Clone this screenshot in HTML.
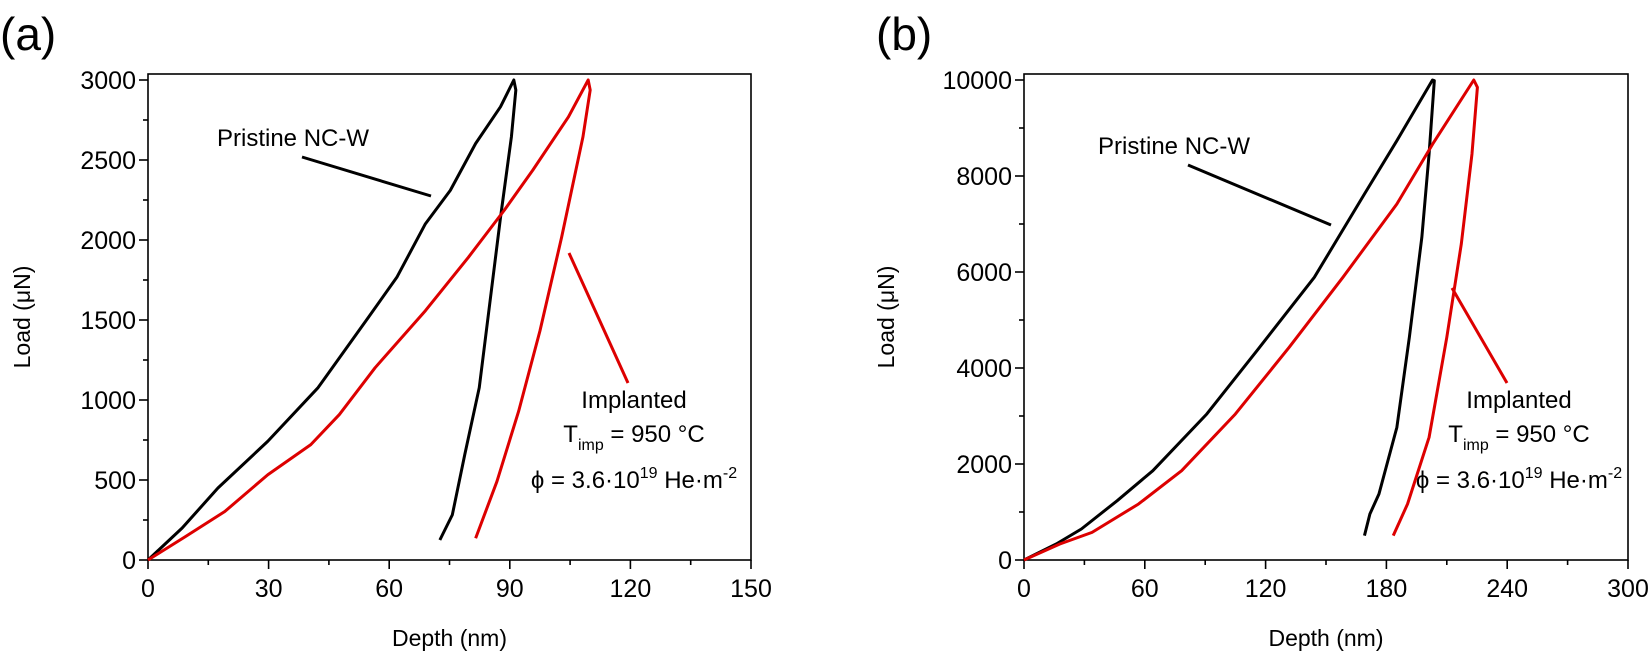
<!DOCTYPE html>
<html><head><meta charset="utf-8"><style>
body{margin:0;background:#fff;}
svg{display:block;font-family:"Liberation Sans",Arial,sans-serif;}
</style></head><body>
<svg width="1650" height="654" viewBox="0 0 1650 654">
<g id="pa"></g>
<g id="pb"></g>
</svg>
<script>
const aBlackLoadX=[0,8.5,17.4,29.8,42.3,54.8,61.9,69,75.2,81.5,87.7,91];
const aBlackLoadY=[0,200,450,742,1077,1516,1767,2101,2310,2603,2833,3000];
const aBlackUnX=[91.5,90.4,87.7,85,82.4,78.8,75.7,72.6];
const aBlackUnY=[2937,2645,2143,1600,1077,659,282,125];
const aRedLoadX=[0,9.3,19.1,29.8,40.5,47.6,56.5,69,79.7,88.6,95.7,104.6,109.5];
const aRedLoadY=[0,146,303,533,721,909,1202,1558,1892,2185,2436,2770,3000];
const aRedUnX=[110,108.2,102.9,97.5,92.2,86.8,81.5];
const aRedUnY=[2937,2645,2018,1432,930,491,136];
const bBlackLoadX=[0,16,28.5,46.3,64,90.8,115.7,144.2,169.1,185.2,202.9];
const bBlackLoadY=[0,333,646,1236,1861,3042,4361,5889,7625,8736,10000];
const bBlackUnX=[203.8,201.2,197.6,191.4,185.2,176.3,171.8,169.1];
const bBlackUnY=[9986,8458,6722,4639,2764,1375,958,507];
const bRedLoadX=[0,17.8,33.8,56.9,78.3,105,131.7,158.4,185.2,203,223.4];
const bRedLoadY=[0,333,576,1167,1861,3042,4431,5889,7417,8667,10000];
const bRedUnX=[225.2,222.5,217.2,210,201.2,190.5,183.4];
const bRedUnY=[9847,8458,6583,4639,2556,1167,507];
const aXTicks=[0,30,60,90,120,150];
const aYTicks=[0,500,1000,1500,2000,2500,3000];
const bXTicks=[0,60,120,180,240,300];
const bYTicks=[0,2000,4000,6000,8000,10000];
const NS="http://www.w3.org/2000/svg";
function mk(p,t,a){const e=document.createElementNS(NS,t);for(const k in a)e.setAttribute(k,a[k]);p.appendChild(e);return e;}
function panel(g,o){
 const sx=v=>o.x0+(v-o.xmin)/(o.xmax-o.xmin)*(o.x1-o.x0);
 const sy=v=>o.y0-(v/o.ymax)*(o.y0-o.yTop);
 let r=mk(g,'rect',{x:o.x0,y:74,width:o.x1-o.x0,height:o.y0-74,fill:'none',stroke:'#000','stroke-width':1.6});
 
 o.xt.forEach(v=>{mk(g,'line',{x1:sx(v),x2:sx(v),y1:o.y0,y2:o.y0+9,stroke:'#000','stroke-width':1.6});
  let t=mk(g,'text',{x:sx(v),y:o.y0+37,'font-size':25,'text-anchor':'middle'});t.textContent=v;
  });
 for(let i=0;i<o.xt.length-1;i++){const v=(o.xt[i]+o.xt[i+1])/2;mk(g,'line',{x1:sx(v),x2:sx(v),y1:o.y0,y2:o.y0+5,stroke:'#000','stroke-width':1.6});}
 o.yt.forEach(v=>{mk(g,'line',{x1:o.x0-9,x2:o.x0,y1:sy(v),y2:sy(v),stroke:'#000','stroke-width':1.6});
  let t=mk(g,'text',{x:o.x0-12,y:sy(v)+9,'font-size':25,'text-anchor':'end'});t.textContent=v;
  });
 for(let i=0;i<o.yt.length-1;i++){const v=(o.yt[i]+o.yt[i+1])/2;mk(g,'line',{x1:o.x0-5,x2:o.x0,y1:sy(v),y2:sy(v),stroke:'#000','stroke-width':1.6});}
 let xt=mk(g,'text',{x:(o.x0+o.x1)/2,y:646,'font-size':23,'text-anchor':'middle'});xt.textContent='Depth (nm)';
 
 let yt=mk(g,'text',{x:0,y:0,'font-size':23,'text-anchor':'middle',transform:`translate(${o.x0-o.ytOff},${(o.y0+74)/2}) rotate(-90)`});yt.textContent='Load (μN)';
 
 let pl=mk(g,'text',{x:o.lx,y:50,'font-size':46});pl.textContent=o.label;
 
 o.series.forEach(s=>{
  const pts=s.x.map((v,i)=>sx(v)+','+sy(s.y[i])).join(' ');
  let p=mk(g,'polyline',{points:pts,fill:'none',stroke:s.c,'stroke-width':3,'stroke-linejoin':'round'});
  
 });
 let t1=mk(g,'text',{x:o.pt[0],y:o.pt[1],'font-size':24});t1.textContent='Pristine NC-W';
 
 mk(g,'line',{x1:o.pl[0],y1:o.pl[1],x2:o.pl[2],y2:o.pl[3],stroke:'#000','stroke-width':3});
 mk(g,'line',{x1:o.rl[0],y1:o.rl[1],x2:o.rl[2],y2:o.rl[3],stroke:'#d00','stroke-width':3});
 const c=o.ic;
 let a=mk(g,'text',{x:c,y:408,'font-size':24,'text-anchor':'middle'});a.textContent='Implanted';
 
 let b=mk(g,'text',{x:c,y:442,'font-size':24,'text-anchor':'middle'});
 b.innerHTML='T<tspan font-size="16" dy="8">imp</tspan><tspan dy="-8"> = 950 °C</tspan>';
 
 let d=mk(g,'text',{x:c,y:488,'font-size':24,'text-anchor':'middle'});
 d.innerHTML='ϕ = 3.6·10<tspan font-size="16" dy="-10">19</tspan><tspan dy="10"> He·m</tspan><tspan font-size="16" dy="-10">-2</tspan>';
 
}
panel(document.getElementById('pa'),{x0:148,x1:751,xmin:0,xmax:150,y0:560,yTop:80,ymax:3000,xt:aXTicks,yt:aYTicks,ytOff:118,lx:0,label:'(a)',
 series:[{x:aBlackLoadX.concat(aBlackUnX),y:aBlackLoadY.concat(aBlackUnY),c:'#000',n:'pristine-curve'},{x:aRedLoadX.concat(aRedUnX),y:aRedLoadY.concat(aRedUnY),c:'#d00',n:'implanted-curve'}],
 pt:[217,146],pl:[302,157,431,196],rl:[569,253,628,383],ic:634});
panel(document.getElementById('pb'),{x0:1024,x1:1628,xmin:0,xmax:300,y0:560,yTop:80,ymax:10000,xt:bXTicks,yt:bYTicks,ytOff:130,lx:876,label:'(b)',
 series:[{x:bBlackLoadX.concat(bBlackUnX),y:bBlackLoadY.concat(bBlackUnY),c:'#000',n:'pristine-curve'},{x:bRedLoadX.concat(bRedUnX),y:bRedLoadY.concat(bRedUnY),c:'#d00',n:'implanted-curve'}],
 pt:[1098,154],pl:[1188,165,1331,225],rl:[1452,288,1507,383],ic:1519});
</script>
</body></html>
